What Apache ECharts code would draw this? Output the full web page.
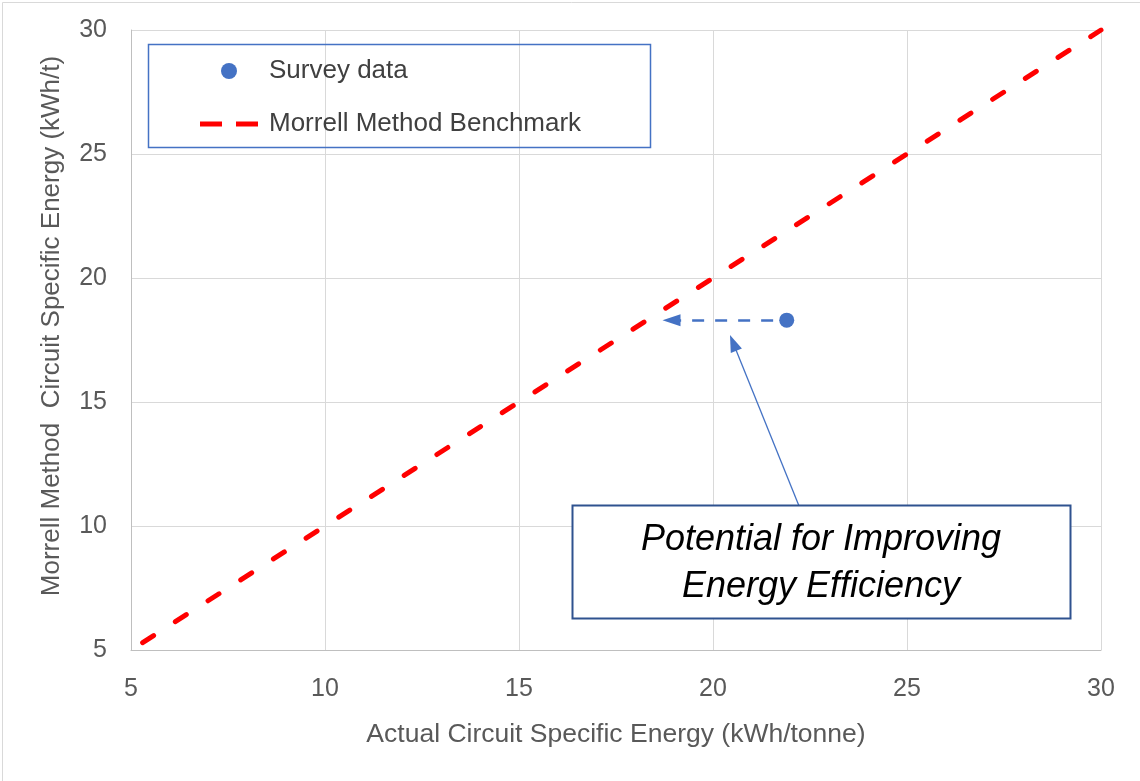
<!DOCTYPE html>
<html>
<head>
<meta charset="utf-8">
<script src="https://cdn.jsdelivr.net/npm/echarts@6/dist/echarts.min.js"></script>
<style>
html,body{margin:0;padding:0;background:#fff;}
#chart{width:1140px;height:781px;}
</style>
</head>
<body>
<div id="chart"></div>
<script>
// Data
const axisTicks = [5, 10, 15, 20, 25, 30];
const surveyData = [[21.9, 18.3]];
const benchmarkLine = [[5.3, 5.3], [30, 30]];
const improvementArrow = [[21.55, 18.3], [18.93, 18.3]];
const calloutArrow = [[22.22, 10.8], [20.52, 17.38]];
const seriesNames = ['Survey data', 'Morrell Method Benchmark'];
const xTitle = 'Actual Circuit Specific Energy (kWh/tonne)';
const yTitle = 'Morrell Method  Circuit Specific Energy (kWh/t)';
const calloutText = ['Potential for Improving', 'Energy Efficiency'];

const FONT = 'Liberation Sans';
const chart = echarts.init(document.getElementById('chart'));
const axisCommon = {
  type: 'value',
  min: axisTicks[0], max: axisTicks[axisTicks.length - 1], interval: 5,
  axisLine: { show: true, lineStyle: { color: '#bfbfbf', width: 1 } },
  axisTick: { show: false },
  splitLine: { show: true, lineStyle: { color: '#d9d9d9', width: 1 } },
  axisLabel: { color: '#595959', fontSize: 25, fontFamily: FONT },
  nameLocation: 'middle',
  nameTextStyle: { color: '#595959', fontSize: 26.5, fontFamily: FONT }
};
chart.setOption({
  animation: false,
  backgroundColor: '#fff',
  grid: { left: 131, right: 39, top: 30, bottom: 131, containLabel: false },
  xAxis: Object.assign({}, axisCommon, {
    name: xTitle, nameGap: 71,
    axisLabel: Object.assign({}, axisCommon.axisLabel, { margin: 27 })
  }),
  yAxis: Object.assign({}, axisCommon, {
    name: yTitle, nameGap: 66,
    nameTextStyle: Object.assign({}, axisCommon.nameTextStyle, { fontSize: 26, padding: [0, 0, 0, 28] }),
    axisLabel: Object.assign({}, axisCommon.axisLabel, { margin: 24 })
  }),
  legend: {
    orient: 'vertical', left: 200, top: 58, itemGap: 27, padding: 0,
    itemWidth: 58, itemHeight: 16,
    textStyle: { color: '#404040', fontSize: 26, fontFamily: FONT, lineHeight: 18, padding: [0, 0, 0, 6] },
    data: [
      { name: seriesNames[0], icon: 'circle', itemStyle: { color: '#4472C4', opacity: 1 } },
      { name: seriesNames[1], icon: 'path://M0,0H22V5H0Z M36,0H58V5H36Z',
        itemStyle: { color: '#FF0000', borderWidth: 0 }, lineStyle: { width: 0, opacity: 0 } }
    ]
  },
  series: [
    {
      name: seriesNames[0], type: 'scatter', data: surveyData,
      symbolSize: 15, itemStyle: { color: '#4472C4', opacity: 1 }, z: 5
    },
    {
      name: seriesNames[1], type: 'line', data: benchmarkLine,
      showSymbol: false, symbol: 'none',
      lineStyle: { color: '#FF0000', width: 5, type: [13, 25.8], cap: 'round' },
      itemStyle: { color: '#FF0000' },
      markLine: {
        silent: true, animation: false, label: { show: false },
        data: [
          [
            { coord: improvementArrow[0], symbol: 'none', lineStyle: { color: '#4472C4', width: 2.5, type: [12, 11] } },
            { coord: improvementArrow[1], symbol: 'triangle', symbolSize: [12, 18] }
          ],
          [
            { coord: calloutArrow[0], symbol: 'none', lineStyle: { color: '#4472C4', width: 1.3, type: 'solid' } },
            { coord: calloutArrow[1], symbol: 'triangle', symbolSize: [12, 17] }
          ]
        ]
      }
    }
  ],
  graphic: [
    { type: 'rect', left: 0, top: 0, shape: { x: 0.5, y: 0.5, width: 1138, height: 779 },
      style: { fill: 'none', stroke: '#d9d9d9', lineWidth: 1 }, silent: true, z: -1 },
    { type: 'rect', shape: { x: 148.5, y: 44.5, width: 502, height: 103 },
      style: { fill: 'none', stroke: '#4472C4', lineWidth: 1.5 }, silent: true, z: 10 },
    { type: 'rect', shape: { x: 572.5, y: 505.5, width: 498, height: 113 },
      style: { fill: '#fff', stroke: '#2F528F', lineWidth: 2 }, silent: true, z: 10 },
    { type: 'text', x: 821, y: 540, z: 11, silent: true,
      style: { text: calloutText[0], fill: '#000', font: 'italic 36px ' + FONT, align: 'center', verticalAlign: 'middle' } },
    { type: 'text', x: 821, y: 587, z: 11, silent: true,
      style: { text: calloutText[1], fill: '#000', font: 'italic 36px ' + FONT, align: 'center', verticalAlign: 'middle' } }
  ]
});
</script>
</body>
</html>
